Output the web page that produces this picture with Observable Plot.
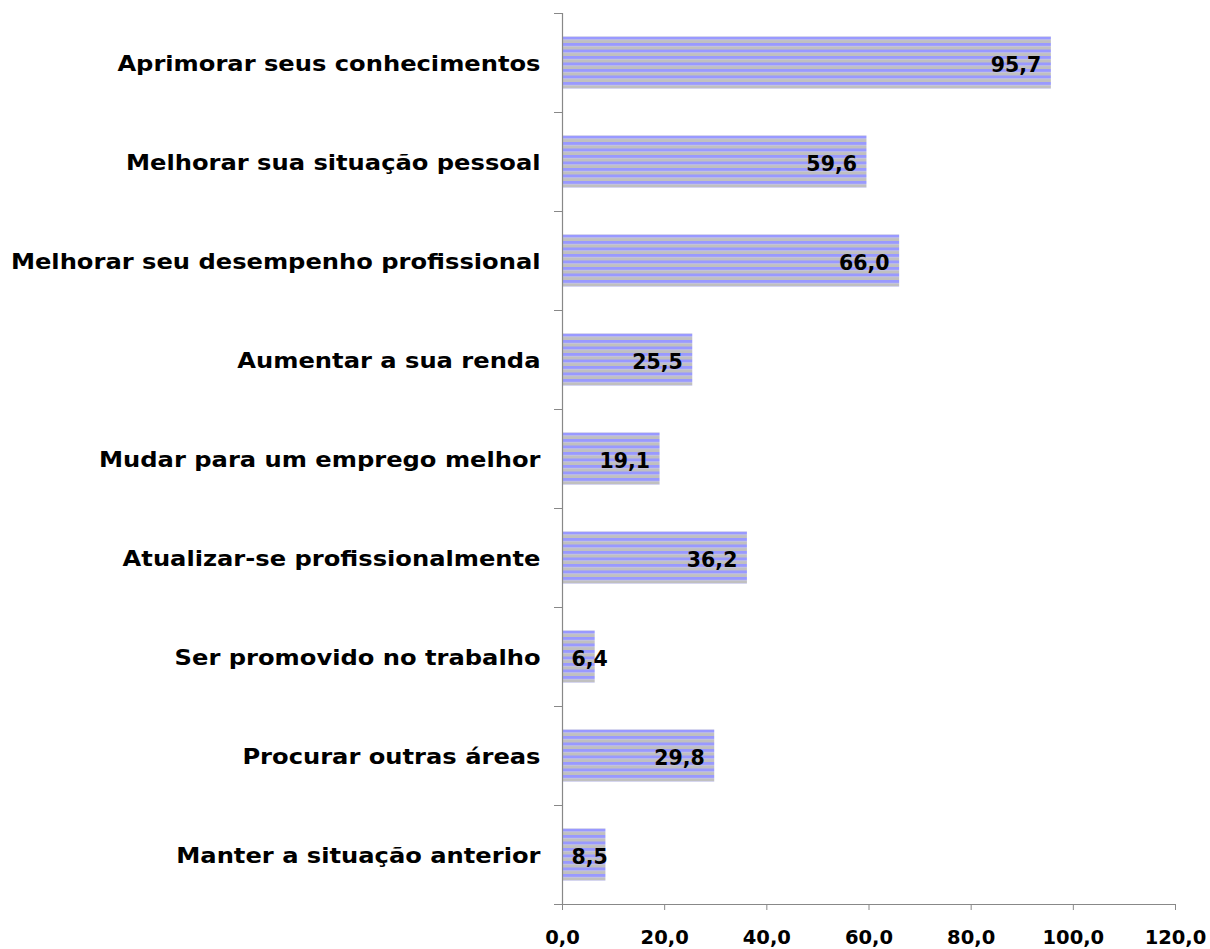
<!DOCTYPE html>
<html>
<head>
<meta charset="utf-8">
<script src="https://cdn.jsdelivr.net/npm/d3@7"></script>
<script src="https://cdn.jsdelivr.net/npm/@observablehq/plot@0.6"></script>
<style>
  html, body { margin: 0; padding: 0; background: #fff; }
  #chart svg { display: block; }
</style>
</head>
<body>
<div id="chart"></div>
<script>
const categories = [
  "Aprimorar seus conhecimentos",
  "Melhorar sua situação pessoal",
  "Melhorar seu desempenho profissional",
  "Aumentar a sua renda",
  "Mudar para um emprego melhor",
  "Atualizar-se profissionalmente",
  "Ser promovido no trabalho",
  "Procurar outras áreas",
  "Manter a situação anterior"
];
const values = [95.7, 59.6, 66.0, 25.5, 19.1, 36.2, 6.4, 29.8, 8.5];
const xTicks = [0, 20, 40, 60, 80, 100, 120];

const data = categories.map((c, i) => ({category: c, value: values[i], i}));
const fmt = v => v.toFixed(1).replace(".", ",");
const font = "'DejaVu Sans', Verdana, sans-serif";
const smallLimit = 10;

const plot = Plot.plot({
  width: 1210,
  height: 949,
  marginTop: 13,
  marginBottom: 45,
  marginLeft: 562,
  marginRight: 35,
  style: {fontFamily: font, fontWeight: "bold", fontSize: "19px", color: "#000", background: "#fff"},
  x: {domain: [0, 120], ticks: xTicks},
  y: {domain: [0, categories.length], reverse: true},
  marks: [
    Plot.rectX(data, {
      x1: 0, x2: "value", y1: "i", y2: d => d.i + 1,
      insetTop: 23.5, insetBottom: 23.5,
      fill: "url(#stripes)"
    }),
    Plot.axisX({
      ticks: xTicks, tickFormat: fmt, tickSize: 6, tickPadding: 20,
      stroke: "#888", fill: "#000", fontSize: 19.5, fontWeight: "bold", label: null
    }),
    Plot.ruleY([categories.length], {stroke: "#888", strokeWidth: 1.2}),
    Plot.axisY({
      ticks: d3.range(categories.length + 1), tickFormat: () => "", tickSize: 8,
      stroke: "#888", label: null
    }),
    Plot.ruleX([0], {stroke: "#888", strokeWidth: 1.2}),
    Plot.text(data, {
      x: 0, y: d => d.i + 0.5, text: "category",
      textAnchor: "end", dx: -22, dy: 1.5, fontSize: 20.5, fontWeight: "bold", fill: "#000"
    }),
    Plot.text(data.filter(d => d.value >= smallLimit), {
      x: "value", y: d => d.i + 0.5, text: d => fmt(d.value),
      textAnchor: "end", dx: -10, dy: 2, fontSize: 20.5, fontWeight: "bold", fill: "#000"
    }),
    Plot.text(data.filter(d => d.value < smallLimit), {
      x: 0, y: d => d.i + 0.5, text: d => fmt(d.value),
      textAnchor: "start", dx: 9, dy: 2, fontSize: 20.5, fontWeight: "bold", fill: "#000"
    })
  ]
});

// stripe pattern for the bars: 8 blue/grey stripe pairs per bar
const ns = "http://www.w3.org/2000/svg";
const defs = document.createElementNS(ns, "defs");
const pat = document.createElementNS(ns, "pattern");
pat.setAttribute("id", "stripes");
pat.setAttribute("patternUnits", "objectBoundingBox");
pat.setAttribute("width", "1");
pat.setAttribute("height", "0.125");
const r1 = document.createElementNS(ns, "rect");
r1.setAttribute("width", "2000"); r1.setAttribute("height", "3.3"); r1.setAttribute("fill", "#9999ff");
const r2 = document.createElementNS(ns, "rect");
r2.setAttribute("y", "3.3"); r2.setAttribute("width", "2000"); r2.setAttribute("height", "3.4"); r2.setAttribute("fill", "#c0c0c0");
pat.appendChild(r1); pat.appendChild(r2);
defs.appendChild(pat);
plot.insertBefore(defs, plot.firstChild);

document.getElementById("chart").appendChild(plot);

// widen the category labels horizontally (the original font is wider)
const stretch = 1.18;
plot.querySelectorAll("text").forEach(el => {
  if (!categories.includes(el.textContent)) return;
  const t = el.getAttribute("transform");
  if (t) {
    el.setAttribute("transform", t + ` scale(${stretch},1)`);
  } else {
    const x = +el.getAttribute("x") || 0, y = +el.getAttribute("y") || 0;
    el.removeAttribute("x"); el.removeAttribute("y");
    el.setAttribute("transform", `translate(${x},${y}) scale(${stretch},1)`);
  }
});
</script>
</body>
</html>
